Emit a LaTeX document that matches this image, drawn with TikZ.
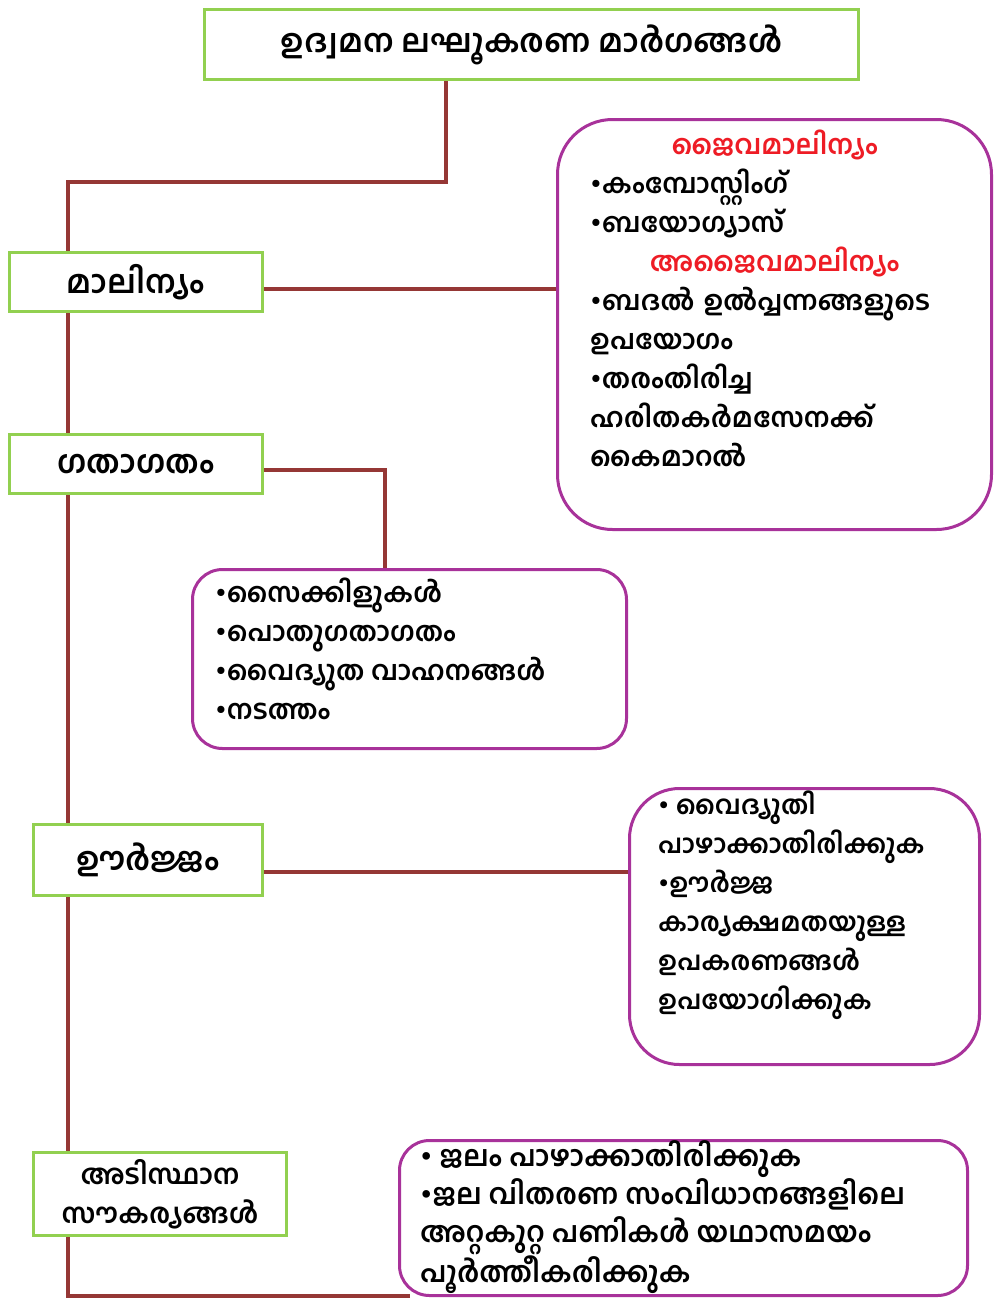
\documentclass[tikz,border=0pt]{standalone}
\usepackage{fontspec}
\usetikzlibrary{backgrounds}
\newfontfamily\malfont[Script=Malayalam]{Hind Kochi}
\definecolor{linkred}{HTML}{953735}
\definecolor{boxgreen}{HTML}{92D050}
\definecolor{boxpurple}{HTML}{A8329A}
\definecolor{headred}{HTML}{EE1C25}
\begin{document}
\begin{tikzpicture}[x=1pt,y=-1pt,
  font=\malfont\bfseries\fontsize{27}{39}\selectfont,
  catbox/.style={draw=boxgreen,line width=3pt,fill=white,inner sep=0pt,align=center,
    font=\malfont\bfseries\fontsize{32}{39}\selectfont},
  notebox/.style={draw=boxpurple,line width=3pt,fill=white,rounded corners=#1},
  notebox/.default=30pt,
  notetext/.style={anchor=north west,align=left,inner sep=0pt},
  link/.style={draw=linkred,line width=3.5pt}]
\useasboundingbox (0,0) rectangle (996,1299);

% category boxes
\node[catbox,minimum width=654pt,minimum height=70pt] (title) at (531.5,44.5) {ഉദ്വമന ലഘൂകരണ മാർഗങ്ങൾ};
\node[catbox,minimum width=253pt,minimum height=59pt] (mal) at (136,282) {മാലിന്യം};
\node[catbox,minimum width=253pt,minimum height=59pt] (gata) at (136,464) {ഗതാഗതം};
\node[catbox,minimum width=229pt,minimum height=71pt] (urja) at (148,860) {ഊർജ്ജം};
\node[catbox,minimum width=253pt,minimum height=83pt,
  font=\malfont\bfseries\fontsize{27.5}{39}\selectfont] (infra) at (160,1194) {അടിസ്ഥാന\\സൗകര്യങ്ങൾ};

% note boxes
\node[notebox=55pt,minimum width=434pt,minimum height=410pt] (bio) at (774.5,324.5) {};
\node[notebox,minimum width=434pt,minimum height=179pt] (trans) at (409.5,659) {};
\node[notebox=50pt,minimum width=350pt,minimum height=276pt] (enbox) at (804.5,926.5) {};
\node[notebox,minimum width=568pt,minimum height=155pt] (infrabox) at (683.5,1218) {};

\node[notetext,text width=369pt] (biotext) at ([xshift=34pt,yshift=-12pt]bio.north west) {%
\makebox[\linewidth]{\color{headred}ജൈവമാലിന്യം}\\
•കംമ്പോസ്റ്റിംഗ്\\
•ബയോഗ്യാസ്\\
\makebox[\linewidth]{\color{headred}അജൈവമാലിന്യം}\\
•ബദൽ ഉൽപ്പന്നങ്ങളുടെ\\
ഉപയോഗം\\
•തരംതിരിച്ച\\
ഹരിതകർമസേനക്ക്\\
കൈമാറൽ};
\node[notetext] (transtext) at ([xshift=24pt,yshift=-10pt]trans.north west) {%
•സൈക്കിളുകൾ\\
•പൊതുഗതാഗതം\\
•വൈദ്യുത വാഹനങ്ങൾ\\
•നടത്തം};
\node[notetext,font=\malfont\bfseries\fontsize{26}{39}\selectfont] (entext) at ([xshift=30pt,yshift=-4pt]enbox.north west) {%
• വൈദ്യുതി\\
പാഴാക്കാതിരിക്കുക\\
•ഊർജ്ജ\\
കാര്യക്ഷമതയുള്ള\\
ഉപകരണങ്ങൾ\\
ഉപയോഗിക്കുക};
\node[notetext,font=\malfont\bfseries\fontsize{28.5}{38}\selectfont] (infratext) at ([xshift=22pt,yshift=-1pt]infrabox.north west) {%
• ജലം പാഴാക്കാതിരിക്കുക\\
•ജല വിതരണ സംവിധാനങ്ങളിലെ\\
അറ്റകുറ്റ പണികൾ യഥാസമയം\\
പൂർത്തീകരിക്കുക};

% connectors
\coordinate (top bend) at (446,182);
\coordinate (trunk top) at (68,182);
\coordinate (trunk end) at (68,1296);
\coordinate (gata bend) at (385,470);
\begin{scope}[on background layer]
\draw[link] (title.south -| top bend) -- (top bend) -- (trunk top) -- (trunk end) -- ([xshift=12pt]trunk end -| infrabox.west);
\draw[link] ([yshift=-7pt]mal.east) -- ([yshift=-7pt]mal.east -| bio.center);
\draw[link] (gata.east |- gata bend) -- (gata bend) -- (gata bend |- trans.north);
\draw[link] ([yshift=-12pt]urja.east) -- ([yshift=-12pt]urja.east -| enbox.center);
\end{scope}
\end{tikzpicture}
\end{document}
